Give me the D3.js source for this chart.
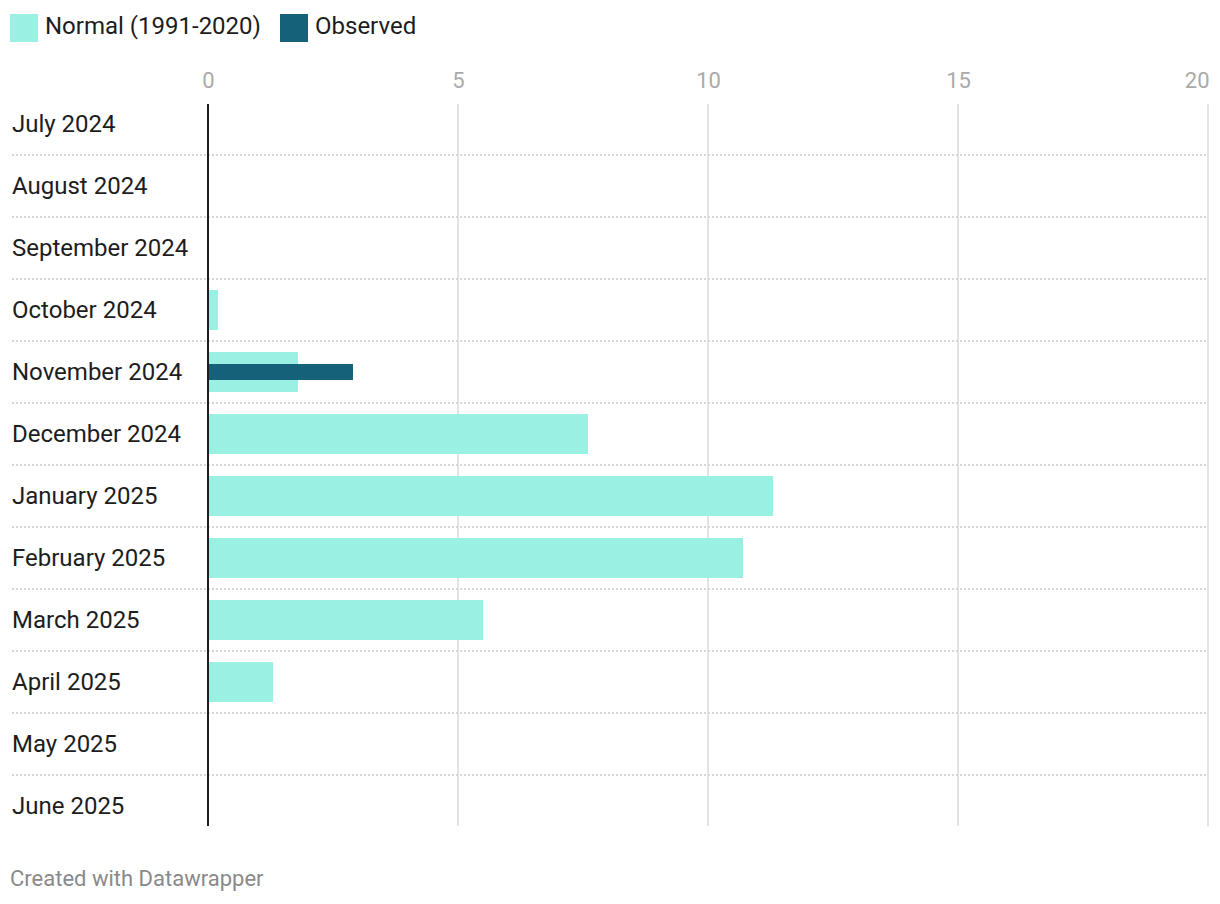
<!DOCTYPE html>
<html>
<head>
<meta charset="utf-8">
<script src="https://cdn.jsdelivr.net/npm/d3@7"></script>
<style>
  html, body { margin: 0; padding: 0; background: #fff; }
  svg { display: block; font-family: Roboto, "Noto Sans", sans-serif; }
</style>
</head>
<body>
<svg id="chart" width="1220" height="904"></svg>
<script>
const months = ["July 2024","August 2024","September 2024","October 2024","November 2024","December 2024","January 2025","February 2025","March 2025","April 2025","May 2025","June 2025"];
const normalValues = [0, 0, 0, 0.2, 1.8, 7.6, 11.3, 10.7, 5.5, 1.3, 0, 0];
const observedValues = [null, null, null, null, 2.9, null, null, null, null, null, null, null];
const tickValues = [0, 5, 10, 15, 20];
const seriesNames = ["Normal (1991-2020)", "Observed"];
const seriesColors = ["#99f0e3", "#16617a"];

const svg = d3.select("#chart");
const x = d3.scaleLinear().domain([0, 20]).range([208, 1208]);
const y = d3.scaleBand().domain(months).range([93, 837]).paddingInner(0).paddingOuter(0);

// Legend
const legend = svg.append("g");
const legendX = [10, 280];
seriesNames.forEach((n, i) => {
  legend.append("rect").attr("x", legendX[i]).attr("y", 14).attr("width", 28).attr("height", 28).attr("fill", seriesColors[i]);
  legend.append("text").attr("x", legendX[i] + 35).attr("y", 34).attr("font-size", 24).attr("fill", "#1d1d1d").text(n);
});

// Gridlines
svg.append("g").selectAll("line").data(tickValues.filter(d => d !== 0)).join("line")
  .attr("x1", d => x(d)).attr("x2", d => x(d))
  .attr("y1", 104).attr("y2", 826)
  .attr("stroke", "#e3e3e3").attr("stroke-width", 2);

// Top axis labels
const axis = d3.axisTop(x).tickValues(tickValues).tickSize(0).tickPadding(0);
const ag = svg.append("g").attr("transform", "translate(0,88)").call(axis);
ag.select(".domain").remove();
ag.selectAll("text").attr("font-size", 22).attr("fill", "#aaaaaa").attr("font-family", "Roboto, sans-serif")
  .attr("text-anchor", d => d === 20 ? "end" : "middle")
  .attr("dx", d => d === 20 ? 1 : 0);

// Row separators (dotted)
svg.append("g").selectAll("line").data(months.slice(1)).join("line")
  .attr("x1", 12).attr("x2", 1208)
  .attr("y1", d => y(d)).attr("y2", d => y(d))
  .attr("stroke", "#d6d6d6").attr("stroke-width", 2).attr("stroke-dasharray", "2 2");

// Normal bars
svg.append("g").selectAll("rect").data(months.map((m, i) => ({m, v: normalValues[i]})).filter(d => d.v > 0)).join("rect")
  .attr("x", x(0)).attr("width", d => x(d.v) - x(0))
  .attr("y", d => y(d.m) + y.bandwidth() / 2 - 20).attr("height", 40)
  .attr("fill", seriesColors[0]);

// Observed bars
svg.append("g").selectAll("rect").data(months.map((m, i) => ({m, v: observedValues[i]})).filter(d => d.v != null && d.v > 0)).join("rect")
  .attr("x", x(0)).attr("width", d => x(d.v) - x(0))
  .attr("y", d => y(d.m) + y.bandwidth() / 2 - 8).attr("height", 16)
  .attr("fill", seriesColors[1]);

// Baseline
svg.append("line").attr("x1", x(0)).attr("x2", x(0)).attr("y1", 104).attr("y2", 826)
  .attr("stroke", "#1d1d1d").attr("stroke-width", 2);

// Category labels
svg.append("g").selectAll("text").data(months).join("text")
  .attr("x", 12).attr("y", d => y(d) + y.bandwidth() / 2 + 8)
  .attr("font-size", 24).attr("fill", "#1d1d1d").text(d => d);

// Footer
svg.append("text").attr("x", 10).attr("y", 886).attr("font-size", 22).attr("fill", "#8a8a8a").text("Created with Datawrapper");
</script>
</body>
</html>
